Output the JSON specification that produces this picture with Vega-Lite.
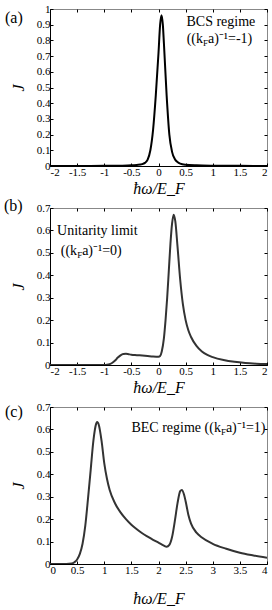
{
  "$schema": "https://vega.github.io/schema/vega-lite/v6.json",
  "background": "white",
  "padding": {"left": 3, "top": 2, "right": 2, "bottom": 2},
  "bounds": "flush",
  "spacing": 42,
  "config": {
    "view": {"stroke": "#888", "strokeWidth": 1},
    "font": "Liberation Serif",
    "style": {
      "guide-label": {"font": "Liberation Serif", "fontSize": 11, "fill": "#000", "fontWeight": "normal"},
      "guide-title": {"font": "Liberation Serif", "fontSize": 16, "fill": "#000", "fontWeight": "normal", "fontStyle": "italic"}
    },
    "axis": {
      "grid": false,
      "tickSize": -3,
      "tickColor": "#000",
      "domainColor": "#000",
      "labelFont": "Liberation Serif",
      "labelFontSize": 11,
      "labelColor": "#000",
      "labelPadding": 3,
      "labelExpr": "'' + datum.value",
      "titleFont": "Liberation Serif",
      "titleFontSize": 16,
      "titleFontStyle": "italic",
      "titleFontWeight": "normal",
      "titleColor": "#000"
    },
    "text": {"font": "Liberation Serif", "fontSize": 14, "color": "#000"}
  },
  "datasets": {
    "a": [
      {"w": -2, "J": 0.0003}, {"w": -1.5, "J": 0.0006}, {"w": -1, "J": 0.001}, {"w": -0.7, "J": 0.002},
      {"w": -0.5, "J": 0.004}, {"w": -0.4, "J": 0.007}, {"w": -0.3, "J": 0.012}, {"w": -0.25, "J": 0.02},
      {"w": -0.2, "J": 0.04}, {"w": -0.15, "J": 0.1}, {"w": -0.1, "J": 0.23}, {"w": -0.05, "J": 0.45},
      {"w": 0, "J": 0.72}, {"w": 0.03, "J": 0.9}, {"w": 0.055, "J": 0.96}, {"w": 0.08, "J": 0.9},
      {"w": 0.1, "J": 0.78}, {"w": 0.15, "J": 0.45}, {"w": 0.2, "J": 0.2}, {"w": 0.25, "J": 0.09},
      {"w": 0.3, "J": 0.045}, {"w": 0.35, "J": 0.025}, {"w": 0.4, "J": 0.015}, {"w": 0.5, "J": 0.008},
      {"w": 0.7, "J": 0.004}, {"w": 1, "J": 0.002}, {"w": 1.5, "J": 0.001}, {"w": 2, "J": 0.0005}
    ],
    "b": [
      {"w": -2, "J": 0}, {"w": -1.5, "J": 0}, {"w": -1, "J": 0}, {"w": -0.95, "J": 0.001},
      {"w": -0.9, "J": 0.004}, {"w": -0.85, "J": 0.01}, {"w": -0.8, "J": 0.02}, {"w": -0.75, "J": 0.033},
      {"w": -0.7, "J": 0.043}, {"w": -0.65, "J": 0.049}, {"w": -0.6, "J": 0.05}, {"w": -0.55, "J": 0.048},
      {"w": -0.5, "J": 0.046}, {"w": -0.4, "J": 0.044}, {"w": -0.3, "J": 0.042}, {"w": -0.2, "J": 0.04},
      {"w": -0.1, "J": 0.038}, {"w": 0, "J": 0.037}, {"w": 0.03, "J": 0.04}, {"w": 0.06, "J": 0.06},
      {"w": 0.1, "J": 0.12}, {"w": 0.13, "J": 0.2}, {"w": 0.16, "J": 0.3}, {"w": 0.19, "J": 0.42},
      {"w": 0.22, "J": 0.54}, {"w": 0.25, "J": 0.63}, {"w": 0.28, "J": 0.67}, {"w": 0.31, "J": 0.64},
      {"w": 0.35, "J": 0.53}, {"w": 0.4, "J": 0.38}, {"w": 0.45, "J": 0.27}, {"w": 0.5, "J": 0.2},
      {"w": 0.55, "J": 0.155}, {"w": 0.6, "J": 0.125}, {"w": 0.7, "J": 0.085}, {"w": 0.8, "J": 0.06},
      {"w": 0.9, "J": 0.045}, {"w": 1, "J": 0.035}, {"w": 1.2, "J": 0.022}, {"w": 1.4, "J": 0.014},
      {"w": 1.6, "J": 0.009}, {"w": 1.8, "J": 0.006}, {"w": 2, "J": 0.004}
    ],
    "c": [
      {"w": 0, "J": 0}, {"w": 0.3, "J": 0}, {"w": 0.4, "J": 0.002}, {"w": 0.45, "J": 0.008},
      {"w": 0.5, "J": 0.02}, {"w": 0.55, "J": 0.045}, {"w": 0.6, "J": 0.09}, {"w": 0.65, "J": 0.17},
      {"w": 0.7, "J": 0.29}, {"w": 0.75, "J": 0.42}, {"w": 0.8, "J": 0.55}, {"w": 0.85, "J": 0.625},
      {"w": 0.87, "J": 0.633}, {"w": 0.9, "J": 0.62}, {"w": 0.95, "J": 0.55}, {"w": 1.0, "J": 0.45},
      {"w": 1.05, "J": 0.38}, {"w": 1.1, "J": 0.33}, {"w": 1.2, "J": 0.27}, {"w": 1.3, "J": 0.23},
      {"w": 1.4, "J": 0.2}, {"w": 1.5, "J": 0.175}, {"w": 1.6, "J": 0.155}, {"w": 1.7, "J": 0.137},
      {"w": 1.8, "J": 0.122}, {"w": 1.9, "J": 0.108}, {"w": 2.0, "J": 0.095}, {"w": 2.1, "J": 0.082},
      {"w": 2.15, "J": 0.077}, {"w": 2.2, "J": 0.085}, {"w": 2.25, "J": 0.12}, {"w": 2.3, "J": 0.19},
      {"w": 2.35, "J": 0.27}, {"w": 2.4, "J": 0.325}, {"w": 2.43, "J": 0.33}, {"w": 2.47, "J": 0.31},
      {"w": 2.5, "J": 0.28}, {"w": 2.55, "J": 0.22}, {"w": 2.6, "J": 0.18}, {"w": 2.7, "J": 0.14},
      {"w": 2.8, "J": 0.118}, {"w": 3.0, "J": 0.09}, {"w": 3.25, "J": 0.068}, {"w": 3.5, "J": 0.05},
      {"w": 3.75, "J": 0.038}, {"w": 4, "J": 0.028}
    ]
  },
  "vconcat": [
    {
      "width": 217, "height": 157,
      "resolve": {"axis": {"x": "independent", "y": "independent"}},
      "layer": [
        {
          "data": {"name": "a"},
          "mark": {"type": "line", "interpolate": "monotone", "color": "#000", "strokeWidth": 2, "clip": true},
          "encoding": {
            "x": {"field": "w", "type": "quantitative", "scale": {"domain": [-2, 2], "nice": false, "zero": false},
                  "axis": {"orient": "bottom", "values": [-2, -1.5, -1, -0.5, 0, 0.5, 1, 1.5, 2], "title": "ħω/E_F", "titlePadding": 3, "labelFont": "Liberation Serif", "titleFont": "Liberation Serif", "titleFontWeight": "normal", "titleFontStyle": "italic"}},
            "y": {"field": "J", "type": "quantitative", "scale": {"domain": [0, 1], "nice": false},
                  "axis": {"orient": "left", "values": [0, 0.1, 0.2, 0.3, 0.4, 0.5, 0.6, 0.7, 0.8, 0.9, 1], "title": "J", "titlePadding": 10, "labelFont": "Liberation Serif", "titleFont": "Liberation Serif", "titleFontWeight": "normal", "titleFontStyle": "italic"}}
          }
        },
        {
          "data": {"name": "a"},
          "mark": {"type": "line", "opacity": 0},
          "encoding": {
            "x": {"field": "w", "type": "quantitative", "axis": {"orient": "top", "labels": false, "title": null, "domain": false, "values": [-2, -1.5, -1, -0.5, 0, 0.5, 1, 1.5, 2]}},
            "y": {"field": "J", "type": "quantitative", "axis": {"orient": "right", "labels": false, "title": null, "domain": false, "values": [0, 0.1, 0.2, 0.3, 0.4, 0.5, 0.6, 0.7, 0.8, 0.9, 1]}}
          }
        },
        {
          "data": {"values": [{"t": "(a)"}]},
          "mark": {"type": "text", "align": "left", "baseline": "middle", "fontSize": 16},
          "encoding": {"x": {"datum": -2.83, "type": "quantitative", "axis": null}, "y": {"datum": 0.943, "type": "quantitative", "axis": null}, "text": {"field": "t"}}
        },
        {
          "data": {"values": [{"t": "BCS regime"}]},
          "mark": {"type": "text", "align": "center", "baseline": "middle"},
          "encoding": {"x": {"datum": 1.15, "type": "quantitative", "axis": null}, "y": {"datum": 0.917, "type": "quantitative", "axis": null}, "text": {"field": "t"}}
        },
        {
          "data": {"values": [{"t": "((k"}]},
          "mark": {"type": "text", "align": "right", "baseline": "middle"},
          "encoding": {"x": {"datum": 0.82, "type": "quantitative", "axis": null}, "y": {"datum": 0.809, "type": "quantitative", "axis": null}, "text": {"field": "t"}}
        },
        {
          "data": {"values": [{"t": "F"}]},
          "mark": {"type": "text", "align": "left", "baseline": "middle", "fontSize": 9, "dy": 4},
          "encoding": {"x": {"datum": 0.82, "type": "quantitative", "axis": null}, "y": {"datum": 0.809, "type": "quantitative", "axis": null}, "text": {"field": "t"}}
        },
        {
          "data": {"values": [{"t": "a)⁻¹=-1)"}]},
          "mark": {"type": "text", "align": "left", "baseline": "middle", "dx": 5},
          "encoding": {"x": {"datum": 0.82, "type": "quantitative", "axis": null}, "y": {"datum": 0.809, "type": "quantitative", "axis": null}, "text": {"field": "t"}}
        }
      ]
    },
    {
      "width": 217, "height": 157,
      "resolve": {"axis": {"x": "independent", "y": "independent"}},
      "layer": [
        {
          "data": {"name": "b"},
          "mark": {"type": "line", "interpolate": "monotone", "color": "#333", "strokeWidth": 2, "clip": true},
          "encoding": {
            "x": {"field": "w", "type": "quantitative", "scale": {"domain": [-2, 2], "nice": false, "zero": false},
                  "axis": {"orient": "bottom", "values": [-2, -1.5, -1, -0.5, 0, 0.5, 1, 1.5, 2], "title": "ħω/E_F", "titlePadding": 3, "labelFont": "Liberation Serif", "titleFont": "Liberation Serif", "titleFontWeight": "normal", "titleFontStyle": "italic"}},
            "y": {"field": "J", "type": "quantitative", "scale": {"domain": [0, 0.7], "nice": false},
                  "axis": {"orient": "left", "values": [0, 0.1, 0.2, 0.3, 0.4, 0.5, 0.6, 0.7], "title": "J", "titlePadding": 10, "labelFont": "Liberation Serif", "titleFont": "Liberation Serif", "titleFontWeight": "normal", "titleFontStyle": "italic"}}
          }
        },
        {
          "data": {"name": "b"},
          "mark": {"type": "line", "opacity": 0},
          "encoding": {
            "x": {"field": "w", "type": "quantitative", "axis": {"orient": "top", "labels": false, "title": null, "domain": false, "values": [-2, -1.5, -1, -0.5, 0, 0.5, 1, 1.5, 2]}},
            "y": {"field": "J", "type": "quantitative", "axis": {"orient": "right", "labels": false, "title": null, "domain": false, "values": [0, 0.1, 0.2, 0.3, 0.4, 0.5, 0.6, 0.7]}}
          }
        },
        {
          "data": {"values": [{"t": "(b)"}]},
          "mark": {"type": "text", "align": "left", "baseline": "middle", "fontSize": 16},
          "encoding": {"x": {"datum": -2.85, "type": "quantitative", "axis": null}, "y": {"datum": 0.707, "type": "quantitative", "axis": null}, "text": {"field": "t"}}
        },
        {
          "data": {"values": [{"t": "Unitarity limit"}]},
          "mark": {"type": "text", "align": "left", "baseline": "middle"},
          "encoding": {"x": {"datum": -1.87, "type": "quantitative", "axis": null}, "y": {"datum": 0.597, "type": "quantitative", "axis": null}, "text": {"field": "t"}}
        },
        {
          "data": {"values": [{"t": "((k"}]},
          "mark": {"type": "text", "align": "right", "baseline": "middle"},
          "encoding": {"x": {"datum": -1.5, "type": "quantitative", "axis": null}, "y": {"datum": 0.508, "type": "quantitative", "axis": null}, "text": {"field": "t"}}
        },
        {
          "data": {"values": [{"t": "F"}]},
          "mark": {"type": "text", "align": "left", "baseline": "middle", "fontSize": 9, "dy": 4},
          "encoding": {"x": {"datum": -1.5, "type": "quantitative", "axis": null}, "y": {"datum": 0.508, "type": "quantitative", "axis": null}, "text": {"field": "t"}}
        },
        {
          "data": {"values": [{"t": "a)⁻¹=0)"}]},
          "mark": {"type": "text", "align": "left", "baseline": "middle", "dx": 5},
          "encoding": {"x": {"datum": -1.5, "type": "quantitative", "axis": null}, "y": {"datum": 0.508, "type": "quantitative", "axis": null}, "text": {"field": "t"}}
        }
      ]
    },
    {
      "width": 217, "height": 157,
      "resolve": {"axis": {"x": "independent", "y": "independent"}},
      "layer": [
        {
          "data": {"name": "c"},
          "mark": {"type": "line", "interpolate": "monotone", "color": "#333", "strokeWidth": 2, "clip": true},
          "encoding": {
            "x": {"field": "w", "type": "quantitative", "scale": {"domain": [0, 4], "nice": false, "zero": false},
                  "axis": {"orient": "bottom", "values": [0, 0.5, 1, 1.5, 2, 2.5, 3, 3.5, 4], "title": "ħω/E_F", "titlePadding": 15, "labelFont": "Liberation Serif", "titleFont": "Liberation Serif", "titleFontWeight": "normal", "titleFontStyle": "italic"}},
            "y": {"field": "J", "type": "quantitative", "scale": {"domain": [0, 0.7], "nice": false},
                  "axis": {"orient": "left", "values": [0, 0.1, 0.2, 0.3, 0.4, 0.5, 0.6, 0.7], "title": "J", "titlePadding": 10, "labelFont": "Liberation Serif", "titleFont": "Liberation Serif", "titleFontWeight": "normal", "titleFontStyle": "italic"}}
          }
        },
        {
          "data": {"name": "c"},
          "mark": {"type": "line", "opacity": 0},
          "encoding": {
            "x": {"field": "w", "type": "quantitative", "axis": {"orient": "top", "labels": false, "title": null, "domain": false, "values": [0, 0.5, 1, 1.5, 2, 2.5, 3, 3.5, 4]}},
            "y": {"field": "J", "type": "quantitative", "axis": {"orient": "right", "labels": false, "title": null, "domain": false, "values": [0, 0.1, 0.2, 0.3, 0.4, 0.5, 0.6, 0.7]}}
          }
        },
        {
          "data": {"values": [{"t": "(c)"}]},
          "mark": {"type": "text", "align": "left", "baseline": "middle", "fontSize": 16},
          "encoding": {"x": {"datum": -0.83, "type": "quantitative", "axis": null}, "y": {"datum": 0.678, "type": "quantitative", "axis": null}, "text": {"field": "t"}}
        },
        {
          "data": {"values": [{"t": "BEC regime ((k"}]},
          "mark": {"type": "text", "align": "right", "baseline": "middle"},
          "encoding": {"x": {"datum": 3.15, "type": "quantitative", "axis": null}, "y": {"datum": 0.606, "type": "quantitative", "axis": null}, "text": {"field": "t"}}
        },
        {
          "data": {"values": [{"t": "F"}]},
          "mark": {"type": "text", "align": "left", "baseline": "middle", "fontSize": 9, "dy": 4},
          "encoding": {"x": {"datum": 3.15, "type": "quantitative", "axis": null}, "y": {"datum": 0.606, "type": "quantitative", "axis": null}, "text": {"field": "t"}}
        },
        {
          "data": {"values": [{"t": "a)⁻¹=1)"}]},
          "mark": {"type": "text", "align": "left", "baseline": "middle", "dx": 5},
          "encoding": {"x": {"datum": 3.15, "type": "quantitative", "axis": null}, "y": {"datum": 0.606, "type": "quantitative", "axis": null}, "text": {"field": "t"}}
        }
      ]
    }
  ]
}
